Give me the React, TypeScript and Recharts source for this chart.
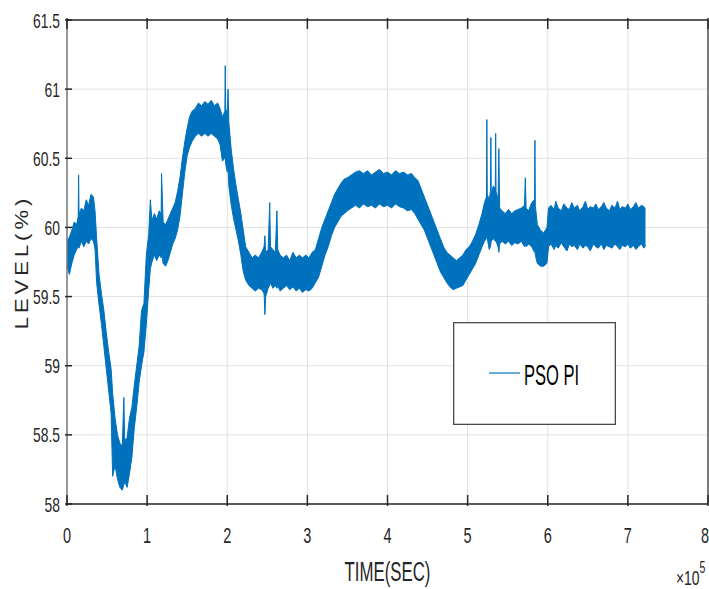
import { AreaChart, Area, XAxis, YAxis, CartesianGrid, Legend, Label } from "recharts";

// time axis in units of 1e5 s
const timeE5 = [
  0, 0.03, 0.06, 0.09, 0.12, 0.14, 0.145, 0.15, 0.18, 0.21,
  0.24, 0.27, 0.3, 0.33, 0.35, 0.37, 0.4, 0.43, 0.46, 0.49,
  0.52, 0.55, 0.57, 0.6, 0.63, 0.66, 0.69, 0.71, 0.72, 0.75,
  0.78, 0.81, 0.84, 0.87, 0.9, 0.93, 0.96, 0.99, 1.02, 1.04,
  1.06, 1.09, 1.12, 1.15, 1.175, 1.18, 1.2, 1.23, 1.26, 1.29,
  1.32, 1.35, 1.38, 1.41, 1.44, 1.47, 1.5, 1.53, 1.56, 1.6,
  1.64, 1.68, 1.72, 1.76, 1.8, 1.84, 1.88, 1.91, 1.94, 1.97,
  1.975, 1.98, 2.0, 2.01, 2.02, 2.05, 2.08, 2.11, 2.14, 2.17,
  2.2, 2.23, 2.27, 2.31, 2.35, 2.39, 2.43, 2.46, 2.47, 2.48,
  2.51, 2.53, 2.54, 2.57, 2.6, 2.62, 2.63, 2.66, 2.7, 2.74,
  2.78, 2.82, 2.86, 2.9, 2.94, 2.98, 3.02, 3.06, 3.1, 3.14,
  3.18, 3.22, 3.26, 3.3, 3.34, 3.38, 3.42, 3.46, 3.5, 3.55,
  3.6, 3.65, 3.7, 3.75, 3.8, 3.85, 3.9, 3.95, 4.0, 4.05,
  4.1, 4.15, 4.2, 4.25, 4.3, 4.34, 4.38, 4.42, 4.46, 4.5,
  4.54, 4.58, 4.62, 4.66, 4.7, 4.74, 4.78, 4.82, 4.86, 4.9,
  4.94, 4.98, 5.02, 5.06, 5.1, 5.14, 5.18, 5.21, 5.235, 5.24,
  5.245, 5.27, 5.285, 5.29, 5.295, 5.32, 5.345, 5.35, 5.355, 5.38,
  5.39, 5.4, 5.43, 5.47, 5.51, 5.55, 5.59, 5.63, 5.67, 5.71,
  5.72, 5.73, 5.76, 5.8, 5.835, 5.84, 5.845, 5.87, 5.91, 5.95,
  5.99, 6.01, 6.04, 6.08, 6.1, 6.13, 6.17, 6.2, 6.24, 6.27,
  6.3, 6.33, 6.37, 6.4, 6.44, 6.47, 6.5, 6.53, 6.57, 6.6,
  6.63, 6.67, 6.7, 6.73, 6.77, 6.8, 6.84, 6.87, 6.9, 6.93,
  6.97, 7.0, 7.03, 7.07, 7.1, 7.13, 7.17, 7.2, 7.22,
];

// lower edge of the noisy PSO PI trace (%)
const levelLow = [
  59.72, 59.66, 59.74, 59.80, 59.84, 59.86, 59.88, 59.85, 59.90, 59.86,
  59.90, 59.88, 59.92, 59.90, 59.84, 59.60, 59.44, 59.30, 59.14, 58.98,
  58.82, 58.66, 58.20, 58.28, 58.18, 58.12, 58.10, 58.14, 58.16, 58.12,
  58.22, 58.34, 58.55, 58.70, 58.88, 59.00, 59.10, 59.30, 59.55, 59.70,
  59.75, 59.80, 59.76, 59.80, 59.78, 59.82, 59.74, 59.72, 59.76, 59.82,
  59.88, 59.92, 59.98, 60.08, 60.24, 60.40, 60.52, 60.58, 60.62, 60.66,
  60.68, 60.66, 60.68, 60.66, 60.68, 60.66, 60.64, 60.60, 60.48, 60.50,
  60.52, 60.46, 60.40, 60.42, 60.30, 60.16, 60.06, 59.98, 59.90, 59.80,
  59.68, 59.62, 59.58, 59.56, 59.54, 59.56, 59.55, 59.52, 59.37, 59.50,
  59.56, 59.58, 59.60, 59.56, 59.58, 59.56, 59.58, 59.54, 59.56, 59.58,
  59.55, 59.57, 59.54, 59.56, 59.53, 59.55, 59.54, 59.56, 59.60, 59.64,
  59.72, 59.80, 59.86, 59.94, 60.00, 60.04, 60.08, 60.10, 60.12, 60.14,
  60.16, 60.14, 60.17, 60.15, 60.16, 60.14, 60.17, 60.15, 60.16, 60.14,
  60.17, 60.15, 60.14, 60.12, 60.13, 60.10, 60.06, 60.02, 59.98, 59.92,
  59.86, 59.80, 59.74, 59.68, 59.64, 59.60, 59.57, 59.55, 59.56, 59.57,
  59.58, 59.62, 59.66, 59.70, 59.74, 59.80, 59.86, 59.90, 59.92, 59.94,
  59.92, 59.84, 59.86, 59.88, 59.90, 59.92, 59.90, 59.92, 59.90, 59.86,
  59.82, 59.88, 59.90, 59.88, 59.90, 59.87, 59.89, 59.88, 59.90, 59.86,
  59.88, 59.86, 59.88, 59.86, 59.82, 59.84, 59.80, 59.74, 59.72, 59.72,
  59.74, 59.86, 59.88, 59.84, 59.87, 59.85, 59.89, 59.86, 59.83, 59.88,
  59.86, 59.87, 59.84, 59.88, 59.85, 59.87, 59.86, 59.83, 59.88, 59.86,
  59.85, 59.88, 59.84, 59.87, 59.86, 59.85, 59.88, 59.86, 59.84, 59.87,
  59.86, 59.88, 59.85, 59.87, 59.84, 59.86, 59.88, 59.85, 59.87,
];

// upper edge of the noisy PSO PI trace (%)
const levelHigh = [
  59.90, 59.93, 59.98, 60.04, 60.02, 60.08, 60.38, 60.10, 60.14, 60.12,
  60.20, 60.16, 60.24, 60.22, 60.12, 59.92, 59.66, 59.52, 59.40, 59.24,
  59.10, 58.98, 58.80, 58.62, 58.50, 58.44, 58.42, 58.77, 58.46, 58.48,
  58.62, 58.70, 58.86, 59.00, 59.14, 59.40, 59.45, 59.80, 59.95, 60.20,
  60.05, 60.10, 60.06, 60.12, 60.10, 60.39, 60.04, 60.02, 60.06, 60.10,
  60.14, 60.18, 60.26, 60.36, 60.50, 60.62, 60.72, 60.80, 60.84, 60.86,
  60.90, 60.88, 60.91, 60.89, 60.92, 60.88, 60.90, 60.86, 60.80, 60.84,
  61.17, 60.86, 60.82, 61.00, 60.76, 60.56, 60.42, 60.30, 60.20, 60.10,
  59.98, 59.86, 59.82, 59.78, 59.80, 59.78, 59.82, 59.86, 59.94, 59.82,
  59.84, 60.18, 59.86, 59.84, 59.82, 60.12, 59.84, 59.80, 59.78, 59.80,
  59.76, 59.82, 59.78, 59.80, 59.78, 59.80, 59.78, 59.82, 59.84, 59.92,
  60.00, 60.06, 60.12, 60.18, 60.24, 60.28, 60.32, 60.35, 60.36, 60.38,
  60.40, 60.41, 60.39, 60.41, 60.38, 60.40, 60.42, 60.39, 60.40, 60.38,
  60.41, 60.39, 60.40, 60.38, 60.39, 60.36, 60.34, 60.28, 60.22, 60.16,
  60.10, 60.04, 59.98, 59.92, 59.86, 59.82, 59.80, 59.78, 59.76, 59.78,
  59.80, 59.84, 59.86, 59.90, 59.95, 60.02, 60.10, 60.18, 60.22, 60.78,
  60.24, 60.20, 60.26, 60.65, 60.24, 60.30, 60.28, 60.68, 60.26, 60.20,
  60.57, 60.14, 60.12, 60.10, 60.13, 60.10, 60.12, 60.13, 60.14, 60.16,
  60.36, 60.14, 60.12, 60.18, 60.20, 60.63, 60.16, 60.02, 59.98, 59.96,
  60.00, 60.14, 60.16, 60.13, 60.19, 60.14, 60.12, 60.17, 60.14, 60.13,
  60.18, 60.14, 60.16, 60.12, 60.15, 60.19, 60.13, 60.15, 60.14, 60.17,
  60.13, 60.15, 60.18, 60.14, 60.12, 60.16, 60.14, 60.19, 60.13, 60.15,
  60.14, 60.17, 60.13, 60.15, 60.18, 60.14, 60.16, 60.15, 60.13,
];

const xTicks = [0, 1, 2, 3, 4, 5, 6, 7, 8];
const yTicks = [58, 58.5, 59, 59.5, 60, 60.5, 61, 61.5];

const data = timeE5.map((t, i) => ({ t, band: [levelLow[i], levelHigh[i]] }));

const AXIS = "#262626";
const GRID = "#e2e2e2";
const BLUE = "#0072BD";
const FONT = '"Liberation Sans", Arial, Helvetica, sans-serif';

function LeftTick(props: any) {
  const { x, y, payload } = props;
  return (
    <g>
      <line x1={x} y1={y} x2={x + 7} y2={y} stroke={AXIS} strokeWidth={1.5} />
      <text
        transform={`translate(${x - 5},${y + 7.5}) scale(0.66,1)`}
        textAnchor="end"
        fontSize={21}
        fontFamily={FONT}
        fill={AXIS}
      >
        {payload.value}
      </text>
    </g>
  );
}

function RightTick(props: any) {
  const { x, y } = props;
  return <line x1={x - 7} y1={y} x2={x} y2={y} stroke={AXIS} strokeWidth={1.5} />;
}

function BottomTick(props: any) {
  const { x, y, payload, index } = props;
  // the last label sits on the right edge of the figure; keep it inside
  const last = index === xTicks.length - 1;
  return (
    <g>
      <line x1={x} y1={y} x2={x} y2={y - 11} stroke={AXIS} strokeWidth={1.5} />
      <text
        transform={`translate(${last ? x + 1 : x},${y + 37}) scale(0.66,1)`}
        textAnchor={last ? "end" : "middle"}
        fontSize={22}
        fontFamily={FONT}
        fill={AXIS}
      >
        {payload.value}
      </text>
    </g>
  );
}

function TopTick(props: any) {
  const { x, y } = props;
  return <line x1={x} y1={y} x2={x} y2={y + 11} stroke={AXIS} strokeWidth={1.5} />;
}

function XTitle(props: any) {
  const vb = props.viewBox || { x: 67, y: 504, width: 641, height: 1 };
  return (
    <g fontFamily={FONT} fill={AXIS}>
      <text
        transform={`translate(${vb.x + vb.width / 2},${vb.y + 77}) scale(0.6,1)`}
        textAnchor="middle"
        fontSize={28}
      >
        TIME(SEC)
      </text>
      <text transform={`translate(${vb.x + vb.width - 32},${vb.y + 81}) scale(0.66,1)`} fontSize={21}>
        ×10
        <tspan dy={-12} fontSize={16}>5</tspan>
      </text>
    </g>
  );
}

function YTitle(props: any) {
  const vb = props.viewBox || { x: 66, y: 20, width: 1, height: 484 };
  return (
    <text
      transform={`translate(28,${vb.y + vb.height / 2}) rotate(-90) scale(1,0.82)`}
      textAnchor="middle"
      fontSize={22}
      letterSpacing={4}
      fontFamily={FONT}
      fill={AXIS}
    >
      LEVEL(%)
    </text>
  );
}

function LegendBox() {
  return (
    <div style={{ width: 163, height: 103, background: "#fff" }}>
      <svg width={163} height={103} style={{ display: "block" }}>
        <rect x={0.65} y={0.65} width={161.7} height={101.7} fill="#fff" stroke="#4a4a4a" strokeWidth={1.3} />
        <line x1={36} y1={51} x2={67} y2={51} stroke={BLUE} strokeWidth={1.2} />
        <text transform="translate(71,63) scale(0.55,1)" fontSize={30} fontFamily={FONT} fill="#000">
          PSO PI
        </text>
      </svg>
    </div>
  );
}

export default function App() {
  return (
    <div style={{ position: "absolute", left: 0, top: 0, background: "#fff" }}>
      <AreaChart
        width={709}
        height={589}
        data={data}
        margin={{ top: 19, right: 0, left: 66, bottom: 84 }}
      >
        <CartesianGrid stroke={GRID} strokeWidth={1} />
        <XAxis
          dataKey="t"
          type="number"
          domain={[0, 8]}
          ticks={xTicks}
          interval={0}
          height={1}
          tickSize={0}
          tickLine={false}
          axisLine={{ stroke: AXIS, strokeWidth: 1.5 }}
          tick={<BottomTick />}
        >
          <Label content={<XTitle />} />
        </XAxis>
        <XAxis
          xAxisId="top"
          orientation="top"
          dataKey="t"
          type="number"
          domain={[0, 8]}
          ticks={xTicks}
          interval={0}
          height={1}
          tickSize={0}
          tickLine={false}
          axisLine={{ stroke: AXIS, strokeWidth: 1.5 }}
          tick={<TopTick />}
        />
        <YAxis
          type="number"
          domain={[58, 61.5]}
          ticks={yTicks}
          interval={0}
          width={1}
          tickSize={0}
          tickLine={false}
          allowDataOverflow
          axisLine={{ stroke: "#7a7a7a", strokeWidth: 1.5 }}
          tick={<LeftTick />}
        >
          <Label content={<YTitle />} />
        </YAxis>
        <YAxis
          yAxisId="right"
          orientation="right"
          type="number"
          domain={[58, 61.5]}
          ticks={yTicks}
          interval={0}
          width={1}
          tickSize={0}
          tickLine={false}
          axisLine={{ stroke: "#555", strokeWidth: 1.5 }}
          tick={<RightTick />}
        />
        <Area
          type="linear"
          dataKey="band"
          name="PSO PI"
          stroke={BLUE}
          strokeWidth={1}
          fill={BLUE}
          fillOpacity={1}
          dot={false}
          activeDot={false}
          isAnimationActive={false}
        />
        <Legend
          layout="horizontal"
          verticalAlign="middle"
          align="center"
          wrapperStyle={{ left: 453, top: 322, width: 163, height: 103 }}
          content={() => <LegendBox />}
        />
      </AreaChart>
    </div>
  );
}
